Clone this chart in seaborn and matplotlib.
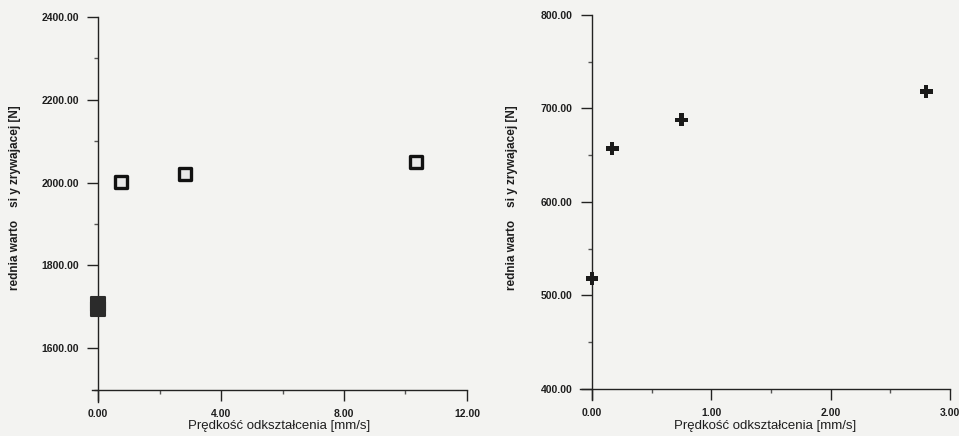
import matplotlib
matplotlib.use("Agg")
from matplotlib import pyplot as plt
from matplotlib.ticker import MultipleLocator, FormatStrFormatter
import seaborn as sns

# values
left_rate = [0.0, 0.0, 0.75, 2.83, 10.34]          # mm/s
left_force = [1695, 1707, 2002, 2020, 2050]        # N
right_rate = [0.0, 0.17, 0.75, 2.8]                # mm/s
right_force = [518, 657, 688, 718]                 # N

x_label = "Prędkość odkształcenia [mm/s]"
y_label = "rednia warto    si y zrywajacej [N]"

sns.set_style("white")
plt.rcParams['font.family'] = ['Liberation Sans', 'DejaVu Sans']

bg = "#f3f3f1"
fig = plt.figure(figsize=(9.59, 4.36), dpi=100, facecolor=bg)
ax1 = fig.add_axes([0.0959, 0.078, 0.391, 0.883], facecolor=bg)
ax2 = fig.add_axes([0.6048, 0.0826, 0.3858, 0.883], facecolor=bg)


def style_axis(ax, xlim, ylim, x0, y0, xmaj, ymaj, label_x, label_y):
    ax.set_xlim(*xlim)
    ax.set_ylim(*ylim)
    for side in ["top", "right"]:
        ax.spines[side].set_visible(False)
    ax.spines["left"].set_position(("data", x0))
    ax.spines["bottom"].set_position(("data", y0))
    for side in ["left", "bottom"]:
        ax.spines[side].set_color("#222")
        ax.spines[side].set_linewidth(1.0)
    ax.xaxis.set_major_locator(MultipleLocator(xmaj))
    ax.xaxis.set_minor_locator(MultipleLocator(xmaj / 2))
    ax.yaxis.set_major_locator(MultipleLocator(ymaj))
    ax.yaxis.set_minor_locator(MultipleLocator(ymaj / 2))
    ax.xaxis.set_major_formatter(FormatStrFormatter("%.2f"))
    ax.yaxis.set_major_formatter(FormatStrFormatter("%.2f"))
    ax.tick_params(which="major", direction="out", length=8, width=1,
                   color="#222", labelsize=7.5, labelcolor="#1e1e1e", pad=6,
                   left=True, bottom=True)
    ax.tick_params(which="minor", direction="out", length=3, width=1,
                   color="#555", left=True, bottom=True)
    for lab in ax.get_xticklabels() + ax.get_yticklabels():
        lab.set_fontweight("bold")
    ax.set_xlabel(x_label, fontsize=9.5, color="#1e1e1e", labelpad=1)
    ax.set_ylabel(y_label, fontsize=8.5, color="#1e1e1e", fontweight="bold")
    ax.yaxis.set_label_coords(label_x, label_y)


# left chart: open squares, the static samples at 0 drawn filled
sns.scatterplot(x=[r for r in left_rate if r == 0],
                y=[f for r, f in zip(left_rate, left_force) if r == 0],
                marker="s", s=100, color="#2b2b2b", edgecolor="#2b2b2b",
                linewidth=1.5, ax=ax1, zorder=3, clip_on=False)
sns.scatterplot(x=[r for r in left_rate if r != 0],
                y=[f for r, f in zip(left_rate, left_force) if r != 0],
                marker="s", s=75, color="#e8e8e8", edgecolor="#111",
                linewidth=2.4, ax=ax1, zorder=3)
style_axis(ax1, (-0.2, 12), (1470, 2400), 0, 1500, 4, 200, -0.19, 0.53)

# right chart: plus markers
sns.scatterplot(x=right_rate, y=right_force, marker="P", s=85,
                color="#1a1a1a", edgecolor="none", ax=ax2, zorder=3, clip_on=False)
style_axis(ax2, (-0.1, 3.0), (388, 800), 0, 400, 1, 100, -0.168, 0.525)

plt.savefig("out.png", dpi=100, facecolor=bg)
